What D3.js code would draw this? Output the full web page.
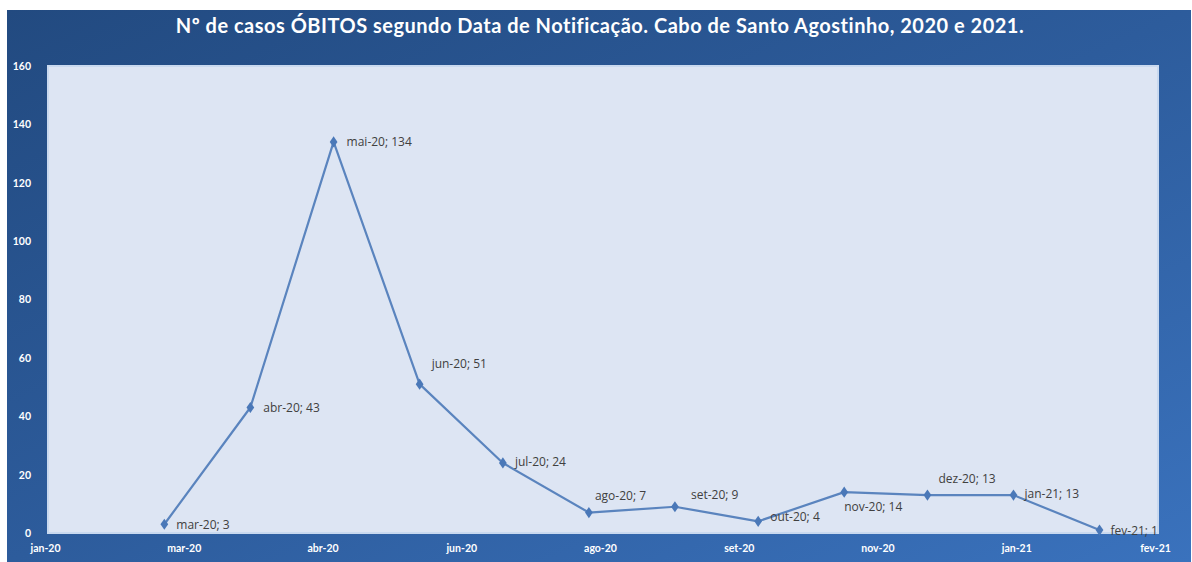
<!DOCTYPE html>
<html>
<head>
<meta charset="utf-8">
<script src="https://cdn.jsdelivr.net/npm/d3@7"></script>
<style>
  body { margin: 0; background: #fff; }
  svg { display: block; }
</style>
</head>
<body>
<svg id="chart" width="1192" height="562"></svg>
<script>
const W = 1192, H = 562;

// monthly deaths by notification date
const months = ["2020-03-01","2020-04-01","2020-05-01","2020-06-01","2020-07-01","2020-08-01",
                "2020-09-01","2020-10-01","2020-11-01","2020-12-01","2021-01-01","2021-02-01"];
const deaths = [3, 43, 134, 51, 24, 7, 9, 4, 14, 13, 13, 1];

// excel date axis: ticks every 50 days from 18 jan 2020
const xTicks = ["2020-01-18","2020-03-08","2020-04-27","2020-06-16","2020-08-05",
                "2020-09-24","2020-11-13","2021-01-02","2021-02-21"];
const yTicks = [0, 20, 40, 60, 80, 100, 120, 140, 160];
const monthNames = ["jan","fev","mar","abr","mai","jun","jul","ago","set","out","nov","dez"];

// where each data label sits relative to its point
const labelOffsets = [[12,1],[13,0],[13,0],[12,-20],[12,-1],[6,-17],
                      [16,-12],[12,-5],[0,15],[11,-16],[11,-1],[11,1]];

const parse = d3.utcParse("%Y-%m-%d");
const fmt = d => monthNames[d.getUTCMonth()] + "-" + String(d.getUTCFullYear()).slice(2);

const svg = d3.select("#chart");
const defs = svg.append("defs");

const bg = defs.append("linearGradient").attr("id", "bg")
  .attr("x1", "0").attr("y1", "0").attr("x2", "1").attr("y2", "1");
bg.append("stop").attr("offset", "0").attr("stop-color", "#224a80");
bg.append("stop").attr("offset", "0.5").attr("stop-color", "#2d5c9c");
bg.append("stop").attr("offset", "1").attr("stop-color", "#3a72bd");

svg.append("rect").attr("x", 7).attr("y", 10).attr("width", W - 8).attr("height", H - 10)
  .attr("fill", "url(#bg)");

const plot = {left: 48, right: 1158, top: 66, bottom: 533};

const x = d3.scaleUtc()
  .domain([parse(xTicks[0]), parse(xTicks[xTicks.length - 1])])
  .range([plot.left - 3, plot.right - 3]);
const y = d3.scaleLinear().domain([0, 160]).range([plot.bottom, plot.top]);

// plot area
svg.append("rect")
  .attr("x", plot.left).attr("y", plot.top)
  .attr("width", plot.right - plot.left).attr("height", plot.bottom - plot.top)
  .attr("fill", "#dde5f3").attr("stroke", "#c9d9ef").attr("stroke-width", 2);

// title
svg.append("text")
  .attr("x", 600).attr("y", 33)
  .attr("text-anchor", "middle")
  .attr("font-family", "Lato, 'Open Sans', sans-serif")
  .attr("font-weight", "bold").attr("font-size", 20)
  .attr("letter-spacing", 0.5)
  .attr("fill", "#ffffff")
  .text("Nº de casos ÓBITOS segundo Data de Notificação. Cabo de Santo Agostinho, 2020 e 2021.");

// axes
const yAxis = svg.append("g")
  .attr("transform", `translate(${plot.left - 17},0)`)
  .call(d3.axisLeft(y).tickValues(yTicks).tickSize(0).tickPadding(0));
const xAxis = svg.append("g")
  .attr("transform", `translate(0,${plot.bottom})`)
  .call(d3.axisBottom(x).tickValues(xTicks.map(parse)).tickFormat(fmt).tickSize(0).tickPadding(12));

[yAxis, xAxis].forEach(a => {
  a.select(".domain").remove();
  a.selectAll("text")
    .attr("fill", "#ffffff")
    .attr("font-family", "Lato, 'Open Sans', sans-serif")
    .attr("font-weight", "bold")
    .attr("font-size", 10.5);
});

const data = months.map((m, i) => ({date: parse(m), value: deaths[i], off: labelOffsets[i]}));

const line = d3.line().x(d => x(d.date)).y(d => y(d.value));

svg.append("path").datum(data)
  .attr("d", line)
  .attr("fill", "none")
  .attr("stroke", "#5a84be")
  .attr("stroke-width", 2.2)
  .attr("stroke-linejoin", "round");

svg.selectAll(".pt").data(data).enter().append("path")
  .attr("class", "pt")
  .attr("d", d3.symbol().type(d3.symbolDiamond).size(36))
  .attr("transform", d => `translate(${x(d.date)},${y(d.value)}) scale(1.2,1)`)
  .attr("fill", "#4a78b8");

svg.selectAll(".lbl").data(data).enter().append("text")
  .attr("class", "lbl")
  .attr("x", d => x(d.date) + d.off[0])
  .attr("y", d => y(d.value) + d.off[1])
  .attr("dy", "0.35em")
  .attr("font-family", "'Open Sans', sans-serif")
  .attr("font-size", 12)
  .attr("fill", "#404040")
  .text(d => fmt(d.date) + "; " + d.value);
</script>
</body>
</html>
